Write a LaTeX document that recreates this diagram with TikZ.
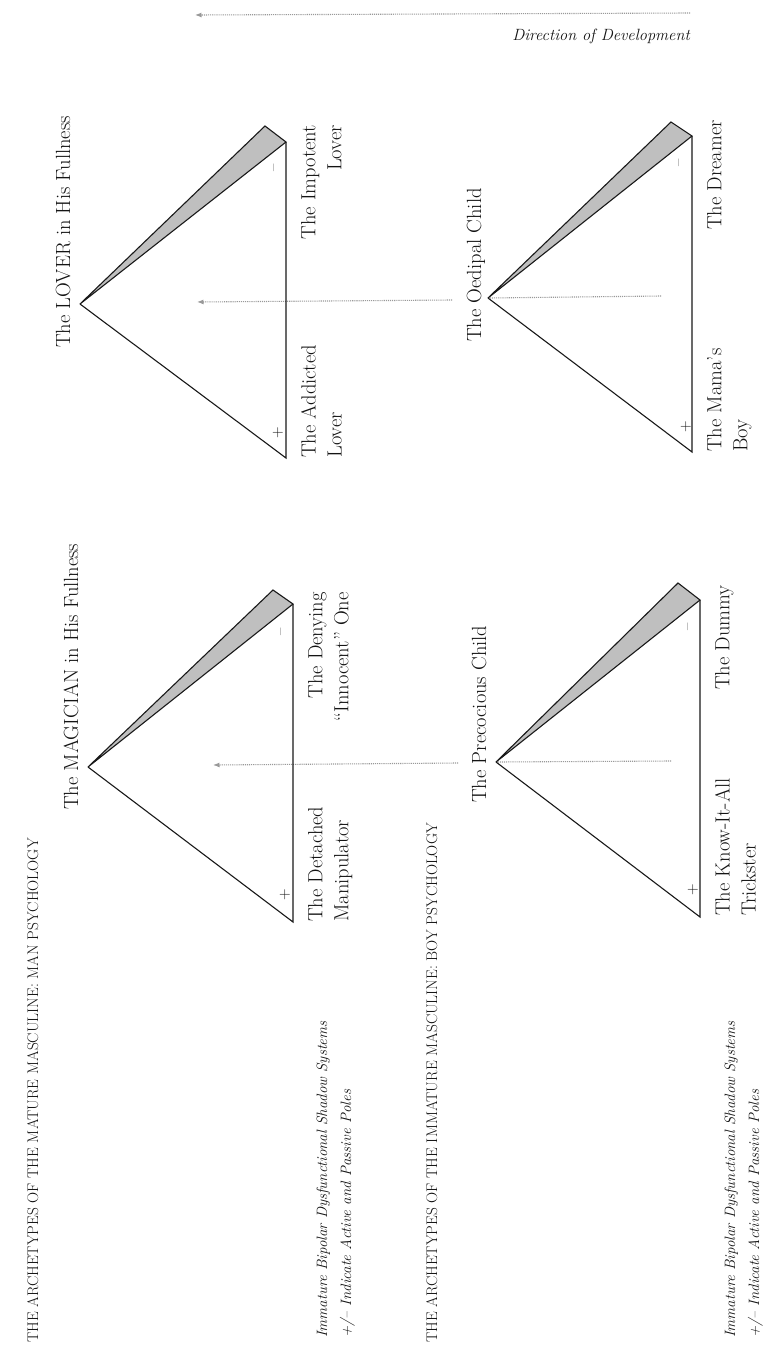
\documentclass[tikz,border=0pt]{standalone}
\usepackage{fontspec}
\usetikzlibrary{arrows.meta}
\begin{document}
\begin{tikzpicture}[x=1pt,y=-1pt,
  tri/.style={draw=black!90,line width=1.1pt,line join=miter},
  sliver/.style={draw=black!90,fill=black!25,line width=1.1pt,line join=miter},
  dev/.style={draw=black!40,line width=1.1pt,densely dotted},
  devtip/.style={-{Latex[length=6.5pt,width=5pt]}},
  ttl/.style={rotate=90,inner sep=0pt,text=black!92,font=\fontsize{20.5}{26}\selectfont},
  lbl/.style={rotate=90,inner sep=0pt,text=black!92,font=\fontsize{20.5}{26}\selectfont},
  pm/.style={rotate=90,inner sep=0pt,text=black!92,font=\fontsize{16}{18}\selectfont},
  fn/.style={rotate=90,inner sep=0pt,text=black!92,font=\itshape\fontsize{15}{18}\selectfont},
  hdr/.style={rotate=90,inner sep=0pt,text=black!92,font=\fontsize{15.4}{18}\selectfont},
  dirtext/.style={inner sep=0pt,text=black!92,font=\itshape\fontsize{16.3}{20}\selectfont}
]
\fill[white] (0,0) rectangle (776,1347);
\useasboundingbox (0,0) rectangle (776,1347);

% ---------- triangle vertices ----------
% LOVER
\coordinate (a1) at (80,304);  \coordinate (o1) at (265,126);
\coordinate (u1) at (286,142); \coordinate (d1) at (286,458);
% MAGICIAN
\coordinate (a2) at (88,767);  \coordinate (o2) at (273,590);
\coordinate (u2) at (293,604); \coordinate (d2) at (293,922);
% OEDIPAL
\coordinate (a3) at (488,298); \coordinate (o3) at (671,122);
\coordinate (u3) at (692,136); \coordinate (d3) at (692,452);
% PRECOCIOUS
\coordinate (a4) at (496,762); \coordinate (o4) at (678,583);
\coordinate (u4) at (700,600); \coordinate (d4) at (700,917);

% ---------- direction arrows ----------
\coordinate (dt) at (690,13);  \coordinate (dh) at (195,15);
\draw[dev,devtip] (dt) -- (dh);
\node[dirtext,anchor=base east] (dir) at (690,40) {Direction of Development};

\coordinate (r1t) at (661,296); \coordinate (r1g) at (452,300); \coordinate (r1h) at (197,302);
\draw[dev] (r1t) -- (a3);
\draw[dev,devtip] (r1g) -- (r1h);
\coordinate (r2t) at (671,761); \coordinate (r2g) at (458,763); \coordinate (r2h) at (213,765);
\draw[dev] (r2t) -- (a4);
\draw[dev,devtip] (r2g) -- (r2h);

% ---------- triangles ----------
\foreach \i in {1,2,3,4}{
  \draw[sliver] (a\i) -- (o\i) -- (u\i) -- cycle;
  \draw[tri] (u\i) -- (d\i) -- (a\i);
}

% ---------- plus / minus ----------
\node[pm] (m1) at (276,168) {–};  \node[pm] (p1) at (278,433) {+};
\node[pm] (m2) at (283,632) {–};  \node[pm] (p2) at (285,895) {+};
\node[pm] (m3) at (681,163) {–};  \node[pm] (p3) at (686,427) {+};
\node[pm] (m4) at (690,627) {–};  \node[pm] (p4) at (693,890) {+};

% ---------- titles ----------
\node[ttl,anchor=base west] (tLover) at (70,348) {The LOVER in His Fullness};
\node[ttl,anchor=base west] (tMagician) at (78,810) {The MAGICIAN in His Fullness};
\node[ttl,anchor=base west] (tOedipal) at (481,342) {The Oedipal Child};
\node[ttl,anchor=base west] (tPrecocious) at (486,803) {The Precocious Child};

% ---------- pole labels ----------
\node[lbl,align=right,anchor=north east] (lImpotent) at (301,125) {The Impotent\\Lover};
\node[lbl,align=left,anchor=north west] (lAddicted) at (301,458) {The Addicted\\Lover};
\node[lbl,align=right,anchor=north east] (lDenying) at (308,592) {The Denying\\“Innocent” One};
\node[lbl,align=left,anchor=north west] (lDetached) at (308,922) {The Detached\\Manipulator};
\node[lbl,align=right,anchor=north east] (lDreamer) at (707,120) {The Dreamer};
\node[lbl,align=left,anchor=north west] (lMamas) at (707,452) {The Mama’s\\Boy};
\node[lbl,align=right,anchor=north east] (lDummy) at (715,585) {The Dummy};
\node[lbl,align=left,anchor=north west] (lKnow) at (715,916) {The Know-It-All\\Trickster};

% ---------- headers ----------
\node[hdr,anchor=base west] (hMan) at (38,1343) {THE ARCHETYPES OF THE MATURE MASCULINE: MAN PSYCHOLOGY};
\node[hdr,anchor=base west] (hBoy) at (437,1343) {THE ARCHETYPES OF THE IMMATURE MASCULINE: BOY PSYCHOLOGY};

% ---------- footnotes ----------
\node[fn,anchor=base west] (fMan1) at (327,1338) {Immature Bipolar Dysfunctional Shadow Systems};
\node[fn,anchor=base west] (fMan2) at (351,1338) {+/– Indicate Active and Passive Poles};
\node[fn,anchor=base west] (fBoy1) at (735,1338) {Immature Bipolar Dysfunctional Shadow Systems};
\node[fn,anchor=base west] (fBoy2) at (759,1338) {+/– Indicate Active and Passive Poles};
\end{tikzpicture}
\end{document}
